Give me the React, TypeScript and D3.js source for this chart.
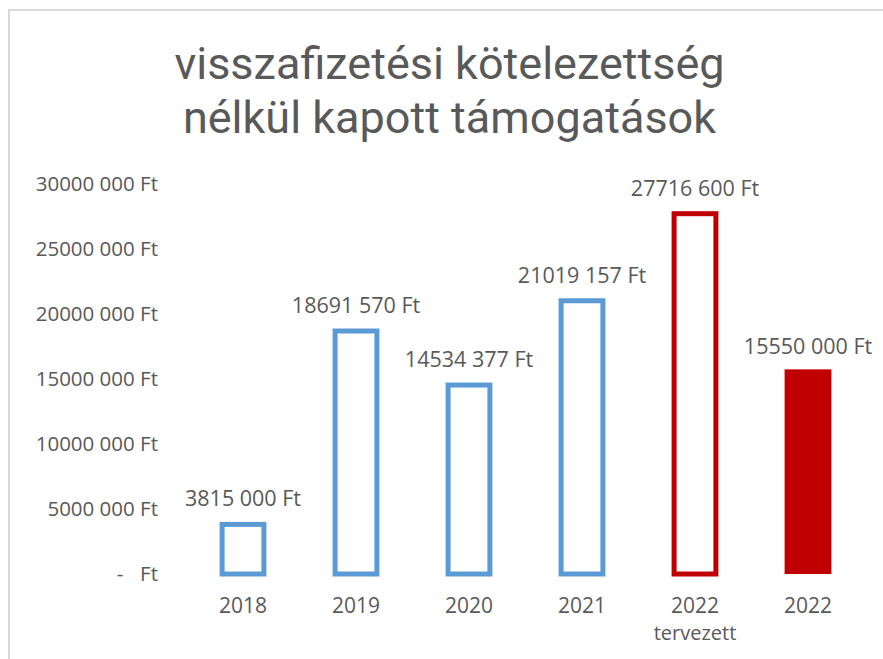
import React from 'react'
import * as d3 from 'd3'

// adatok
const categories = ['2018', '2019', '2020', '2021', '2022t', '2022']
const categoryLabels = [['2018'], ['2019'], ['2020'], ['2021'], ['2022', 'tervezett'], ['2022']]
const values = [3815000, 18691570, 14534377, 21019157, 27716600, 15550000]
const barKinds = ['outline', 'outline', 'outline', 'outline', 'outlineRed', 'filledRed']
const yTicks = [0, 5000000, 10000000, 15000000, 20000000, 25000000, 30000000]
const titleLines = ['visszafizetési kötelezettség', 'nélkül kapott támogatások']

const W = 883
const H = 659
const FONT = '"Open Sans", Calibri, sans-serif'
const TITLE_FONT = 'Roboto, "Open Sans", sans-serif'
const TEXT = '#595959'
const BLUE = '#5B9BD5'
const RED = '#C00000'

// 3815 000 Ft formátum (csak az ezres csoport elválasztva)
const ft = (v: number) => {
  const thousands = Math.floor(v / 1000)
  const rest = String(v % 1000).padStart(3, '0')
  return `${thousands} ${rest} Ft`
}

export default function App() {
  const x = d3.scaleBand().domain(categories).range([186.5, 864.5]).paddingInner(0.63).paddingOuter(0.315)
  const y = d3.scaleLinear().domain([0, 30000000]).range([574, 184])

  return (
    <svg width={W} height={H} style={{ position: 'absolute', left: 0, top: 0, background: '#fff' }}>
      <rect x={9} y={10} width={W + 20} height={H + 20} fill="#fff" stroke="#d9d9d9" strokeWidth={2} />

      <text fontFamily={TITLE_FONT} fill={TEXT} textAnchor="middle" fontSize={45}>
        {titleLines.map((t, i) => (
          <tspan key={t} x={449.5} y={79 + i * 54}>{t}</tspan>
        ))}
      </text>

      <g fontFamily={FONT} fill={TEXT} fontSize={20.5}>
        {yTicks.map(t =>
          t === 0 ? (
            <g key={t}>
              <text x={120} y={y(t)} dy="0.35em" textAnchor="middle">-</text>
              <text x={158} y={y(t)} dy="0.35em" textAnchor="end">Ft</text>
            </g>
          ) : (
            <text key={t} x={158} y={y(t)} dy="0.35em" textAnchor="end">{ft(t)}</text>
          )
        )}
      </g>

      {categories.map((c, i) => {
        const v = values[i]
        const kind = barKinds[i]
        const bx = x(c) as number
        const bw = x.bandwidth()
        const top = y(v)
        const filled = kind === 'filledRed'
        const col = kind === 'outline' ? BLUE : RED
        return (
          <g key={c}>
            <rect
              x={filled ? bx - 2.5 : bx}
              y={filled ? top - 2.5 : top}
              width={filled ? bw + 5 : bw}
              height={filled ? y(0) - top + 2.5 : y(0) - top}
              fill={filled ? col : 'none'}
              stroke={filled ? 'none' : col}
              strokeWidth={5}
            />
            <text x={bx + bw / 2} y={top - 18} fontFamily={FONT} fontSize={21.5} fill={TEXT} textAnchor="middle">
              {ft(v)}
            </text>
            <text x={bx + bw / 2} y={613} fontFamily={FONT} fill={TEXT} textAnchor="middle">
              {categoryLabels[i].map((l, j) => (
                <tspan key={l} x={bx + bw / 2} y={613 + j * 27} fontSize={j === 0 ? 21 : 20}>{l}</tspan>
              ))}
            </text>
          </g>
        )
      })}
    </svg>
  )
}
